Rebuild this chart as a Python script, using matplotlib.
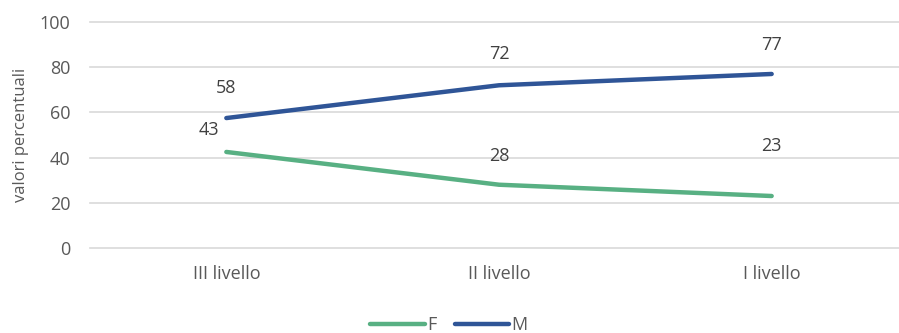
import matplotlib
matplotlib.use("Agg")
import matplotlib.pyplot as plt

categories = ["III livello", "II livello", "I livello"]
f_values = [42.5, 28, 23]
m_values = [57.5, 72, 77]
series_names = ["F", "M"]
y_ticks = [0, 20, 40, 60, 80, 100]

plt.rcParams['font.family'] = ['Open Sans', 'DejaVu Sans']

fig = plt.figure(figsize=(8.99, 3.33), dpi=100)
ax = fig.add_axes([90/899, (333-248)/333, (908-90)/899, (248-22)/333])

x = list(range(len(categories)))
green = "#58B083"
blue = "#2F5597"
lf, = ax.plot(x, f_values, color=green, lw=3.2, solid_capstyle='round', label=series_names[0], zorder=3)
lm, = ax.plot(x, m_values, color=blue, lw=3.2, solid_capstyle='round', label=series_names[1], zorder=3)

def lab(v):
    return str(int(v + 0.5))

m_off = [(0, 30), (0, 31), (0, 29)]
f_off = [(-17, 22), (0, 29), (0, 50)]
for i, v in enumerate(m_values):
    ax.annotate(lab(v), (x[i], v), xytext=m_off[i], textcoords='offset pixels',
                ha='center', va='center', fontsize=13, color='#404040')
for i, v in enumerate(f_values):
    ax.annotate(lab(v), (x[i], v), xytext=f_off[i], textcoords='offset pixels',
                ha='center', va='center', fontsize=13, color='#404040')

ax.set_xlim(-0.5, 2.5)
ax.set_ylim(0, 100)
ax.set_yticks(y_ticks)
ax.set_xticks(x)
ax.set_xticklabels(categories)
ax.grid(axis='y', color='#D9D9D9', lw=1.2)
for gl in ax.get_ygridlines():
    gl.set_clip_on(False)
ax.set_axisbelow(True)
for s in ax.spines.values():
    s.set_visible(False)
ax.tick_params(axis='both', length=0, labelsize=13, colors='#595959')
ax.tick_params(axis='x', pad=12)
ax.tick_params(axis='y', pad=14)
ax.set_ylabel("valori percentuali", fontsize=12, color='#595959', labelpad=8)

fig.legend(handles=[lf, lm], loc='center', bbox_to_anchor=(449/899, 1-325/333),
           ncol=2, frameon=False, fontsize=13, handlelength=3.0, handletextpad=0.15,
           columnspacing=1.0, labelcolor='#595959')

fig.savefig("out.png", dpi=100)
